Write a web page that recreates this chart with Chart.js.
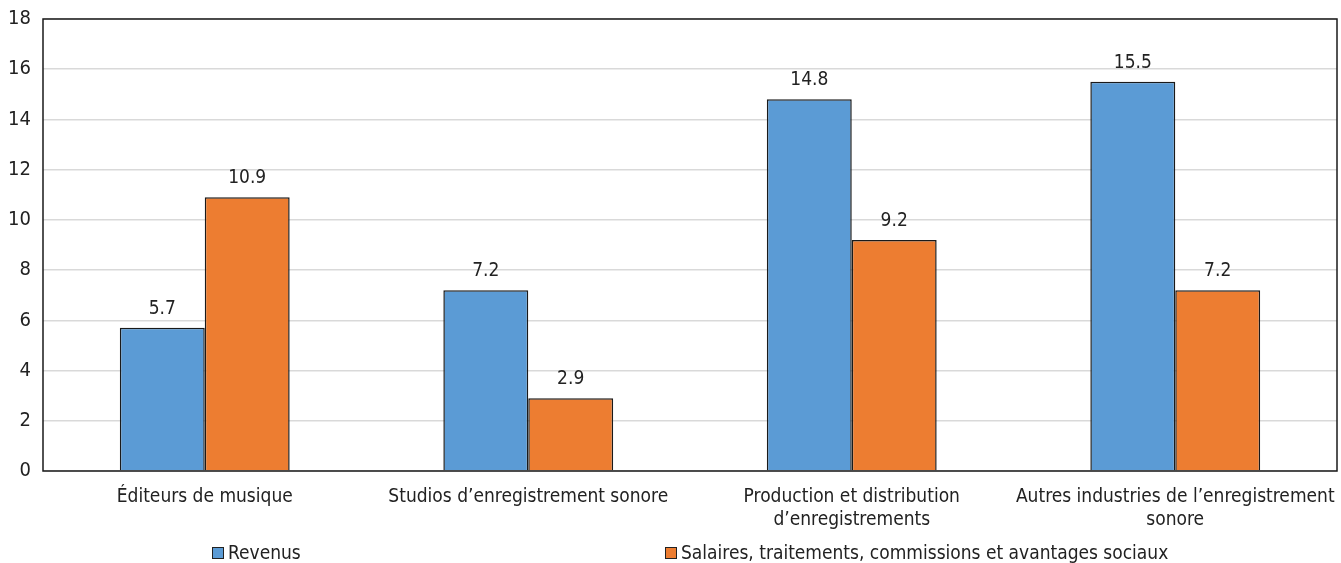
<!DOCTYPE html>
<html lang="fr">
<head>
    <meta charset="UTF-8">
    <title>Revenus et salaires - enregistrement sonore</title>
    <script src="https://cdn.jsdelivr.net/npm/chart.js"></script>
    <style>
        html, body { margin: 0; padding: 0; background: #fff; }
        #wrap { width: 1341px; height: 563px; position: relative; }
    </style>
</head>
<body>
    <div id="wrap"><canvas id="chart" width="1341" height="563"></canvas></div>

    <script>
        const categories = [
            'Éditeurs de musique',
            'Studios d’enregistrement sonore',
            ['Production et distribution', 'd’enregistrements'],
            ['Autres industries de l’enregistrement', 'sonore']
        ];
        const revenus = [5.7, 7.2, 14.8, 15.5];
        const salaires = [10.9, 2.9, 9.2, 7.2];
        const seriesNames = ['Revenus', 'Salaires, traitements, commissions et avantages sociaux'];

        const FONT = "'Liberation Sans Narrow', 'DejaVu Sans Condensed', 'Arial Narrow', sans-serif";
        const TEXT = '#222';

        // value labels above each bar
        const barLabels = {
            id: 'barLabels',
            afterDatasetsDraw(chart) {
                const ctx = chart.ctx;
                ctx.save();
                ctx.font = '19px ' + FONT;
                ctx.fillStyle = TEXT;
                ctx.textAlign = 'center';
                ctx.textBaseline = 'alphabetic';
                chart.data.datasets.forEach((ds, i) => {
                    chart.getDatasetMeta(i).data.forEach((bar, j) => {
                        ctx.fillText(ds.data[j].toFixed(1), bar.x, bar.y - 14);
                    });
                });
                ctx.restore();
            }
        };

        // box around the plot area + legend laid out like the original
        const frameAndLegend = {
            id: 'frameAndLegend',
            afterDraw(chart) {
                const ctx = chart.ctx;
                const a = chart.chartArea;
                ctx.save();
                ctx.strokeStyle = '#1a1a1a';
                ctx.lineWidth = 1.5;
                ctx.strokeRect(a.left, a.top, a.right - a.left, a.bottom - a.top);

                const items = [
                    { x: 212, color: '#5b9bd5' },
                    { x: 665, color: '#ed7d31' }
                ];
                ctx.font = '19px ' + FONT;
                ctx.textBaseline = 'middle';
                items.forEach((it, i) => {
                    ctx.fillStyle = it.color;
                    ctx.fillRect(it.x, 547, 12, 12);
                    ctx.strokeStyle = '#222';
                    ctx.lineWidth = 1;
                    ctx.strokeRect(it.x + 0.5, 547.5, 11, 11);
                    ctx.fillStyle = TEXT;
                    ctx.fillText(seriesNames[i], it.x + 16, 554);
                });
                ctx.restore();
            }
        };

        new Chart(document.getElementById('chart'), {
            type: 'bar',
            data: {
                labels: categories,
                datasets: [
                    {
                        label: seriesNames[0],
                        data: revenus,
                        backgroundColor: '#5b9bd5',
                        borderColor: '#1a1a1a',
                        borderWidth: 1.5
                    },
                    {
                        label: seriesNames[1],
                        data: salaires,
                        backgroundColor: '#ed7d31',
                        borderColor: '#1a1a1a',
                        borderWidth: 1.5
                    }
                ]
            },
            options: {
                responsive: false,
                animation: false,
                layout: { padding: { top: 19, right: 4, bottom: 12, left: 0 } },
                datasets: {
                    bar: { barPercentage: 1, categoryPercentage: 0.525 }
                },
                plugins: {
                    legend: { display: false },
                    tooltip: { enabled: false }
                },
                scales: {
                    x: {
                        grid: { display: false },
                        border: { display: false },
                        ticks: {
                            color: TEXT,
                            font: { family: FONT, size: 19, lineHeight: 1.2 },
                            padding: 7,
                            maxRotation: 0,
                            autoSkip: false
                        },
                        afterFit(scale) {
                            scale.height = 80;
                            scale.paddingLeft = 0;
                            scale.paddingRight = 0;
                        }
                    },
                    y: {
                        min: 0,
                        max: 18,
                        grid: { color: '#d9d9d9', lineWidth: 1.5, drawTicks: false },
                        border: { display: false },
                        ticks: {
                            stepSize: 2,
                            color: TEXT,
                            font: { family: FONT, size: 20 },
                            padding: 12
                        },
                        afterFit(scale) {
                            scale.width = 43;
                            scale.paddingTop = 0;
                            scale.paddingBottom = 0;
                        }
                    }
                }
            },
            plugins: [barLabels, frameAndLegend]
        });
    </script>
</body>
</html>
